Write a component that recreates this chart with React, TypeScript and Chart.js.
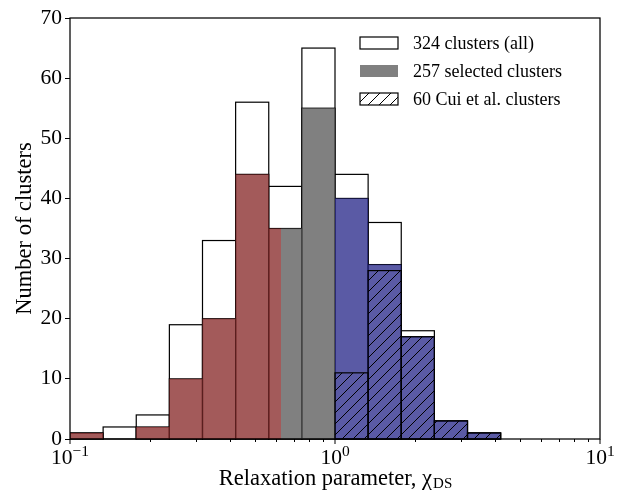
import React, { useEffect, useRef } from 'react';
import { Chart, registerables } from 'chart.js';

Chart.register(...registerables);

// ---- data ----
const binEdgeExponents = [-1, -0.875, -0.75, -0.625, -0.5, -0.375, -0.25, -0.125, 0, 0.125, 0.25, 0.375, 0.5, 0.625];
const allCounts = [1, 2, 4, 19, 33, 56, 42, 65, 44, 36, 18, 3, 1];
const selectedCounts = [1, 0, 2, 10, 20, 44, 35, 55, 40, 29, 17, 3, 1];
const cuiCounts = [0, 0, 0, 0, 0, 0, 0, 0, 11, 28, 17, 3, 1];
const colourRegionBreaks = [0.1, 0.625, 1.0, 10];
const regionColours = ['rgba(140,49,49,0.8)', 'rgba(96,96,96,0.8)', 'rgba(49,49,143,0.8)'];
const legendLabels = ['324 clusters (all)', '257 selected clusters', '60 Cui et al. clusters'];
const xMajorTicks = [0.1, 1, 10];
const xMajorExponents = ['\u22121', '0', '1'];
const xMinorTicks = [0.2, 0.3, 0.4, 0.5, 0.6, 0.7, 0.8, 0.9, 2, 3, 4, 5, 6, 7, 8, 9];
const yMax = 70;
const yStep = 10;
const xTitleMain = 'Relaxation parameter, \u03c7';
const xTitleSub = 'DS';
const yTitle = 'Number of clusters';

const FAMILY = "'Liberation Serif', 'Times New Roman', serif";
const TITLE_SIZE = 22.5;

function makeHatch(ctx: CanvasRenderingContext2D) {
  const size = 11;
  const c = document.createElement('canvas');
  c.width = size;
  c.height = size;
  const g = c.getContext('2d')!;
  g.strokeStyle = '#000';
  g.lineWidth = 1;
  g.beginPath();
  g.moveTo(0, size);
  g.lineTo(size, 0);
  g.moveTo(-size / 2, size / 2);
  g.lineTo(size / 2, -size / 2);
  g.moveTo(size / 2, size * 1.5);
  g.lineTo(size * 1.5, size / 2);
  g.stroke();
  return ctx.createPattern(c, 'repeat')!;
}

const histPlugin = {
  id: 'histPlugin',
  beforeDatasetsDraw(chart: any) {
    const { ctx, chartArea, scales } = chart;
    const x = scales.x;
    const y = scales.y;
    const edges = binEdgeExponents.map((e) => Math.pow(10, e));
    const y0 = y.getPixelForValue(0);
    const hatch = makeHatch(ctx);
    ctx.save();
    ctx.beginPath();
    ctx.rect(chartArea.left, chartArea.top - 2, chartArea.right - chartArea.left, chartArea.bottom - chartArea.top + 4);
    ctx.clip();

    // all clusters
    ctx.lineWidth = 1.2;
    ctx.strokeStyle = '#000';
    allCounts.forEach((c, i) => {
      if (c <= 0) return;
      const x0 = x.getPixelForValue(edges[i]);
      const x1 = x.getPixelForValue(edges[i + 1]);
      const yt = y.getPixelForValue(c);
      ctx.fillStyle = '#fff';
      ctx.fillRect(x0, yt, x1 - x0, y0 - yt);
      ctx.strokeRect(x0, yt, x1 - x0, y0 - yt);
    });

    // selected clusters: outline then translucent colour by region
    selectedCounts.forEach((c, i) => {
      if (c <= 0) return;
      const x0 = x.getPixelForValue(edges[i]);
      const x1 = x.getPixelForValue(edges[i + 1]);
      const yt = y.getPixelForValue(c);
      ctx.strokeRect(x0, yt, x1 - x0, y0 - yt);
    });
    for (let r = 0; r < regionColours.length; r++) {
      const rx0 = x.getPixelForValue(colourRegionBreaks[r]);
      const rx1 = x.getPixelForValue(colourRegionBreaks[r + 1]);
      ctx.save();
      ctx.beginPath();
      ctx.rect(rx0, chartArea.top, rx1 - rx0, chartArea.bottom - chartArea.top);
      ctx.clip();
      ctx.fillStyle = regionColours[r];
      selectedCounts.forEach((c, i) => {
        if (c <= 0) return;
        const x0 = x.getPixelForValue(edges[i]);
        const x1 = x.getPixelForValue(edges[i + 1]);
        const yt = y.getPixelForValue(c);
        ctx.fillRect(x0, yt, x1 - x0, y0 - yt);
      });
      ctx.restore();
    }

    // Cui et al. hatched
    cuiCounts.forEach((c, i) => {
      if (c <= 0) return;
      const x0 = x.getPixelForValue(edges[i]);
      const x1 = x.getPixelForValue(edges[i + 1]);
      const yt = y.getPixelForValue(c);
      ctx.fillStyle = hatch;
      ctx.fillRect(x0, yt, x1 - x0, y0 - yt);
      ctx.lineWidth = 1.2;
      ctx.strokeStyle = '#000';
      ctx.strokeRect(x0, yt, x1 - x0, y0 - yt);
    });
    ctx.restore();
  },
  afterDraw(chart: any) {
    const { ctx, chartArea, scales } = chart;
    const x = scales.x;
    ctx.save();
    // frame
    ctx.strokeStyle = '#000';
    ctx.lineWidth = 1.25;
    ctx.strokeRect(chartArea.left, chartArea.top, chartArea.right - chartArea.left, chartArea.bottom - chartArea.top);

    // x ticks
    ctx.lineWidth = 1;
    const b = chartArea.bottom;
    xMinorTicks.forEach((v) => {
      const px = Math.round(x.getPixelForValue(v)) + 0.5;
      ctx.beginPath();
      ctx.moveTo(px, b);
      ctx.lineTo(px, b + 3);
      ctx.stroke();
    });
    ctx.fillStyle = '#000';
    xMajorTicks.forEach((v, i) => {
      const px = x.getPixelForValue(v);
      ctx.beginPath();
      ctx.moveTo(px, b);
      ctx.lineTo(px, b + 5);
      ctx.stroke();
      ctx.font = `21.5px ${FAMILY}`;
      const w10 = ctx.measureText('10').width;
      ctx.font = `15.5px ${FAMILY}`;
      const wExp = ctx.measureText(xMajorExponents[i]).width;
      const start = px - (w10 + wExp) / 2;
      ctx.textBaseline = 'alphabetic';
      ctx.textAlign = 'left';
      ctx.font = `21.5px ${FAMILY}`;
      ctx.fillText('10', start, b + 25);
      ctx.font = `15.5px ${FAMILY}`;
      ctx.fillText(xMajorExponents[i], start + w10, b + 17);
    });

    // x title
    ctx.font = `${TITLE_SIZE}px ${FAMILY}`;
    const wMain = ctx.measureText(xTitleMain).width;
    ctx.font = `15px ${FAMILY}`;
    const wSub = ctx.measureText(xTitleSub).width;
    const cx = (chartArea.left + chartArea.right) / 2;
    const sx = cx - (wMain + wSub) / 2;
    ctx.font = `${TITLE_SIZE}px ${FAMILY}`;
    ctx.fillText(xTitleMain, sx, 485);
    ctx.font = `15px ${FAMILY}`;
    ctx.fillText(xTitleSub, sx + wMain + 1, 488);

    // legend
    const hatch = makeHatch(ctx);
    const lx = 360;
    const bw = 38;
    const bh = 12;
    const rows = [43, 71, 99];
    ctx.font = `18px ${FAMILY}`;
    ctx.textBaseline = 'middle';
    rows.forEach((cy, i) => {
      const top = cy - bh / 2;
      if (i === 0) {
        ctx.fillStyle = '#fff';
        ctx.fillRect(lx, top, bw, bh);
        ctx.strokeStyle = '#000';
        ctx.lineWidth = 1.2;
        ctx.strokeRect(lx, top, bw, bh);
      } else if (i === 1) {
        ctx.fillStyle = regionColours[1];
        ctx.fillRect(lx, top, bw, bh);
      } else {
        ctx.fillStyle = hatch;
        ctx.fillRect(lx, top, bw, bh);
        ctx.strokeStyle = '#000';
        ctx.lineWidth = 1.2;
        ctx.strokeRect(lx, top, bw, bh);
      }
      ctx.fillStyle = '#000';
      ctx.fillText(legendLabels[i], 413, cy + 1);
    });
    ctx.restore();
  },
};

export default function App() {
  const canvasRef = useRef<HTMLCanvasElement | null>(null);
  useEffect(() => {
    if (!canvasRef.current) return;
    const chart = new Chart(canvasRef.current, {
      type: 'scatter',
      data: { datasets: [] },
      options: {
        animation: false,
        responsive: false,
        maintainAspectRatio: false,
        layout: { padding: { top: 18, right: 25, left: 0, bottom: 0 } },
        plugins: { legend: { display: false }, tooltip: { enabled: false } },
        scales: {
          x: {
            type: 'logarithmic',
            min: 0.1,
            max: 10,
            ticks: { display: false },
            grid: { display: false },
            border: { display: false },
            afterFit: (s: any) => {
              s.height = 53;
            },
          },
          y: {
            type: 'linear',
            min: 0,
            max: yMax,
            ticks: { stepSize: yStep, color: '#000', font: { family: FAMILY, size: 21.5 }, padding: 3 },
            grid: { display: true, drawOnChartArea: false, drawTicks: true, tickLength: 5, color: '#000', lineWidth: 1 },
            border: { display: false },
            title: {
              display: true,
              text: yTitle,
              color: '#000',
              font: { family: FAMILY, size: TITLE_SIZE },
              padding: { top: 11.5, bottom: 0 },
            },
            afterFit: (s: any) => {
              s.width = 70;
            },
          },
        },
      },
      plugins: [histPlugin],
    } as any);
    return () => chart.destroy();
  }, []);
  return (
    <div style={{ position: 'fixed', left: 0, top: 0, width: 625, height: 492, background: '#fff' }}>
      <canvas ref={canvasRef} width={625} height={492} style={{ display: 'block' }} />
    </div>
  );
}
